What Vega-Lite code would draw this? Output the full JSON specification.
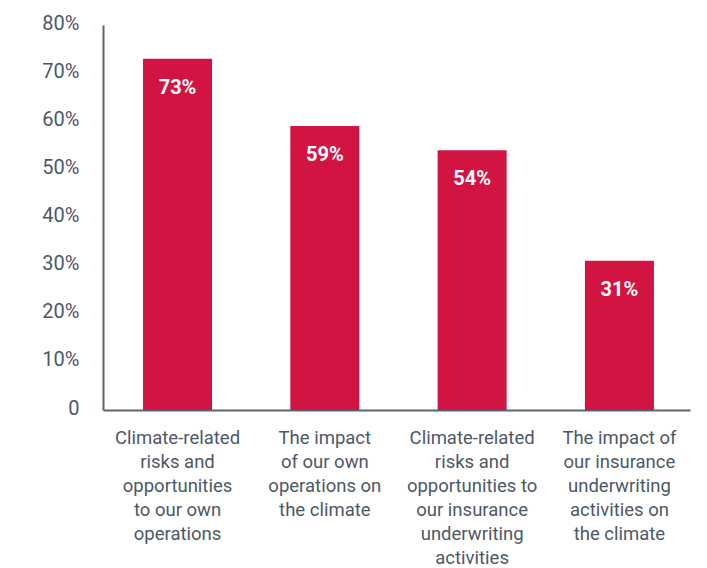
{
  "$schema": "https://vega.github.io/schema/vega-lite/v6.json",
  "width": 587,
  "height": 385,
  "autosize": "none",
  "padding": {"left": 103, "top": 25, "right": 17, "bottom": 158},
  "background": "white",
  "config": {"view": {"stroke": null}, "font": "Roboto"},
  "data": {
    "values": [
      {"category": "Climate-related|risks and|opportunities|to our own|operations", "value": 0.73},
      {"category": "The impact|of our own|operations on|the climate", "value": 0.59},
      {"category": "Climate-related|risks and|opportunities to|our insurance|underwriting|activities", "value": 0.54},
      {"category": "The impact of|our insurance|underwriting|activities on|the climate", "value": 0.31}
    ]
  },
  "encoding": {
    "x": {
      "field": "category",
      "type": "nominal",
      "sort": null,
      "scale": {"paddingInner": 0.5316, "paddingOuter": 0.2583, "align": 0.526},
      "axis": {
        "title": null,
        "labelAngle": 0,
        "labelExpr": "split(datum.label, '|')",
        "labelFont": "Roboto",
        "labelFontSize": 18.5,
        "labelLineHeight": 24.1,
        "labelColor": "#4d5866",
        "labelPadding": 18,
        "labelBaseline": "top",
        "ticks": false,
        "domainColor": "#5b6571",
        "domainWidth": 2,
        "labelLimit": 0
      }
    },
    "y": {
      "field": "value",
      "type": "quantitative",
      "scale": {"domain": [0, 0.8], "nice": false},
      "axis": {
        "title": null,
        "values": [0, 0.1, 0.2, 0.3, 0.4, 0.5, 0.6, 0.7, 0.8],
        "labelExpr": "datum.value == 0 ? '0' : format(datum.value, '.0%')",
        "labelFont": "Roboto",
        "labelFontSize": 20,
        "labelColor": "#4d5866",
        "labelPadding": 24,
        "labelOffset": -2,
        "ticks": false,
        "grid": false,
        "domainColor": "#5b6571",
        "domainWidth": 2
      }
    }
  },
  "layer": [
    {"mark": {"type": "bar", "color": "#d21443"}},
    {
      "mark": {"type": "text", "color": "white", "font": "Roboto", "fontWeight": "bold", "fontSize": 20, "baseline": "middle", "dy": 29},
      "encoding": {"text": {"field": "value", "type": "quantitative", "format": ".0%"}}
    }
  ]
}
